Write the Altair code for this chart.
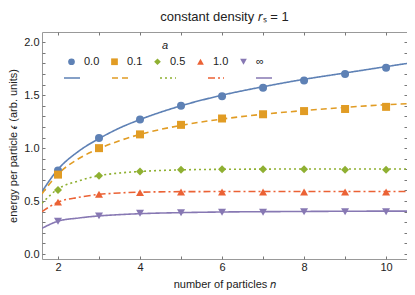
import altair as alt
import pandas as pd

categories = ["0.0", "0.1", "0.5", "1.0", "∞"]
colors = ["#5E81B5", "#E19C24", "#8FB032", "#EB6235", "#8778B3"]
shapes = ["circle", "square", "diamond", "triangle-up", "triangle-down"]
dashes = [[1, 0], [6, 4], [2, 3], [7, 3, 2, 3], [1, 0]]

# computed results (markers)
n_points = [2, 3, 4, 5, 6, 7, 8, 9, 10]
pts_a00 = [0.79, 1.095, 1.27, 1.40, 1.49, 1.57, 1.64, 1.70, 1.76]
pts_a01 = [0.75, 1.00, 1.13, 1.22, 1.28, 1.32, 1.35, 1.37, 1.39]
pts_a05 = [0.605, 0.74, 0.78, 0.795, 0.80, 0.80, 0.80, 0.795, 0.795]
pts_a10 = [0.49, 0.565, 0.58, 0.585, 0.585, 0.585, 0.585, 0.585, 0.585]
pts_ainf = [0.31, 0.36, 0.385, 0.39, 0.395, 0.395, 0.40, 0.40, 0.40]

# fitted curves
n_curve = [1.61, 2, 2.5, 3, 3.5, 4, 5, 6, 7, 8, 9, 10, 10.51]
fit_a00 = [0.59, 0.80, 0.97, 1.09, 1.19, 1.27, 1.40, 1.50, 1.58, 1.65, 1.71, 1.77, 1.80]
fit_a01 = [0.57, 0.755, 0.90, 0.995, 1.07, 1.13, 1.215, 1.275, 1.32, 1.355, 1.385, 1.41, 1.42]
fit_a05 = [0.48, 0.615, 0.69, 0.74, 0.765, 0.78, 0.795, 0.80, 0.802, 0.803, 0.803, 0.803, 0.803]
fit_a10 = [0.40, 0.49, 0.535, 0.563, 0.577, 0.584, 0.589, 0.59, 0.59, 0.59, 0.59, 0.59, 0.59]
fit_ainf = [0.243, 0.31, 0.34, 0.36, 0.372, 0.381, 0.391, 0.397, 0.40, 0.402, 0.404, 0.405, 0.405]

x_domain = [1.61, 10.51]
y_domain = [-0.047, 2.097]
x_ticks = [2, 3, 4, 5, 6, 7, 8, 9, 10]
y_ticks = [round(i * 0.1, 1) for i in range(21)]

pts_series = [pts_a00, pts_a01, pts_a05, pts_a10, pts_ainf]
fit_series = [fit_a00, fit_a01, fit_a05, fit_a10, fit_ainf]

pt_rows, fit_rows = [], []
for cat, vals in zip(categories, pts_series):
    for n, v in zip(n_points, vals):
        pt_rows.append({"n": n, "e": v, "a": cat})
for cat, vals in zip(categories, fit_series):
    for n, v in zip(n_curve, vals):
        fit_rows.append({"n": n, "e": v, "a": cat})
pt_df = pd.DataFrame(pt_rows)
fit_df = pd.DataFrame(fit_rows)

FONT = "Liberation Sans"
TXT = "#222222"

xscale = alt.Scale(domain=x_domain, nice=False, zero=False)
yscale = alt.Scale(domain=y_domain, nice=False, zero=False)
cscale = alt.Scale(domain=categories, range=colors)

common_axis = dict(tickSize=3, offset=-3, domain=False, grid=False, tickColor="#777777",
                   labelFont=FONT, labelFontSize=11, labelColor=TXT, titleFont=FONT,
                   titleFontSize=11, titleFontWeight="normal", titleColor=TXT,
                   labelOverlap=False, labelFlush=False)

line_legend = alt.Legend(title=None, orient="none", legendX=21, legendY=37, direction="horizontal",
                         symbolType="stroke", symbolSize=256, symbolStrokeWidth=1.6,
                         labelExpr="''", labelOffset=0, columnPadding=24, padding=0)

point_legend = alt.Legend(title="a", orient="none", legendX=24, legendY=8, direction="horizontal",
                          titleAnchor="middle", titleFont=FONT, titleFontStyle="italic",
                          titleFontWeight="normal", titleFontSize=11, titleColor=TXT, titlePadding=5,
                          labelFont=FONT, labelFontSize=11, labelColor=TXT, labelOffset=7,
                          symbolSize=45, symbolStrokeWidth=0, columnPadding=9, padding=0)

lines = alt.Chart(fit_df).mark_line(interpolate="monotone", strokeWidth=1.6, clip=True).encode(
    x=alt.X("n:Q", scale=xscale, axis=alt.Axis(
        orient="bottom", values=x_ticks,
        labelExpr="datum.value % 2 == 0 ? datum.label : ''",
        labelPadding=2, title="number of particles 𝑛", titlePadding=6, **common_axis)),
    y=alt.Y("e:Q", scale=yscale, axis=alt.Axis(
        orient="left", values=y_ticks, format=".1f",
        labelExpr="round(datum.value * 10) % 5 == 0 ? datum.label : ''",
        labelPadding=3, title="energy per particle 𝜖 (arb. units)", titlePadding=5, **common_axis)),
    color=alt.Color("a:N", scale=cscale, sort=categories, legend=line_legend),
    strokeDash=alt.StrokeDash("a:N", scale=alt.Scale(domain=categories, range=dashes),
                              sort=categories, legend=line_legend),
)

points = alt.Chart(pt_df).mark_point(filled=True, size=64, opacity=1).encode(
    x=alt.X("n:Q", scale=xscale, axis=alt.Axis(orient="top", values=x_ticks, labels=False,
                                               title=None, **common_axis)),
    y=alt.Y("e:Q", scale=yscale, axis=alt.Axis(orient="right", values=y_ticks, labels=False,
                                               title=None, **common_axis)),
    color=alt.Color("a:N", scale=cscale, sort=categories, legend=point_legend),
    shape=alt.Shape("a:N", scale=alt.Scale(domain=categories, range=shapes),
                    sort=categories, legend=point_legend),
)

chart = alt.layer(lines, points).resolve_scale(
    x="independent", y="independent", color="independent", shape="independent",
    strokeDash="independent"
).resolve_axis(x="independent", y="independent").resolve_legend(
    color="independent", shape="independent", strokeDash="independent"
).properties(
    width=365, height=227,
    autosize=alt.AutoSizeParams(type="none"),
    padding={"left": 34, "top": 24, "right": 0, "bottom": 32},
    title=alt.Title("constant density 𝑟ₛ = 1", font=FONT, fontSize=13, fontWeight="normal",
                    color=TXT, anchor="middle", frame="group", offset=8),
).configure_view(stroke="#999999", strokeWidth=1)

chart.save("out.html", embed_options={"renderer": "svg", "actions": False})
